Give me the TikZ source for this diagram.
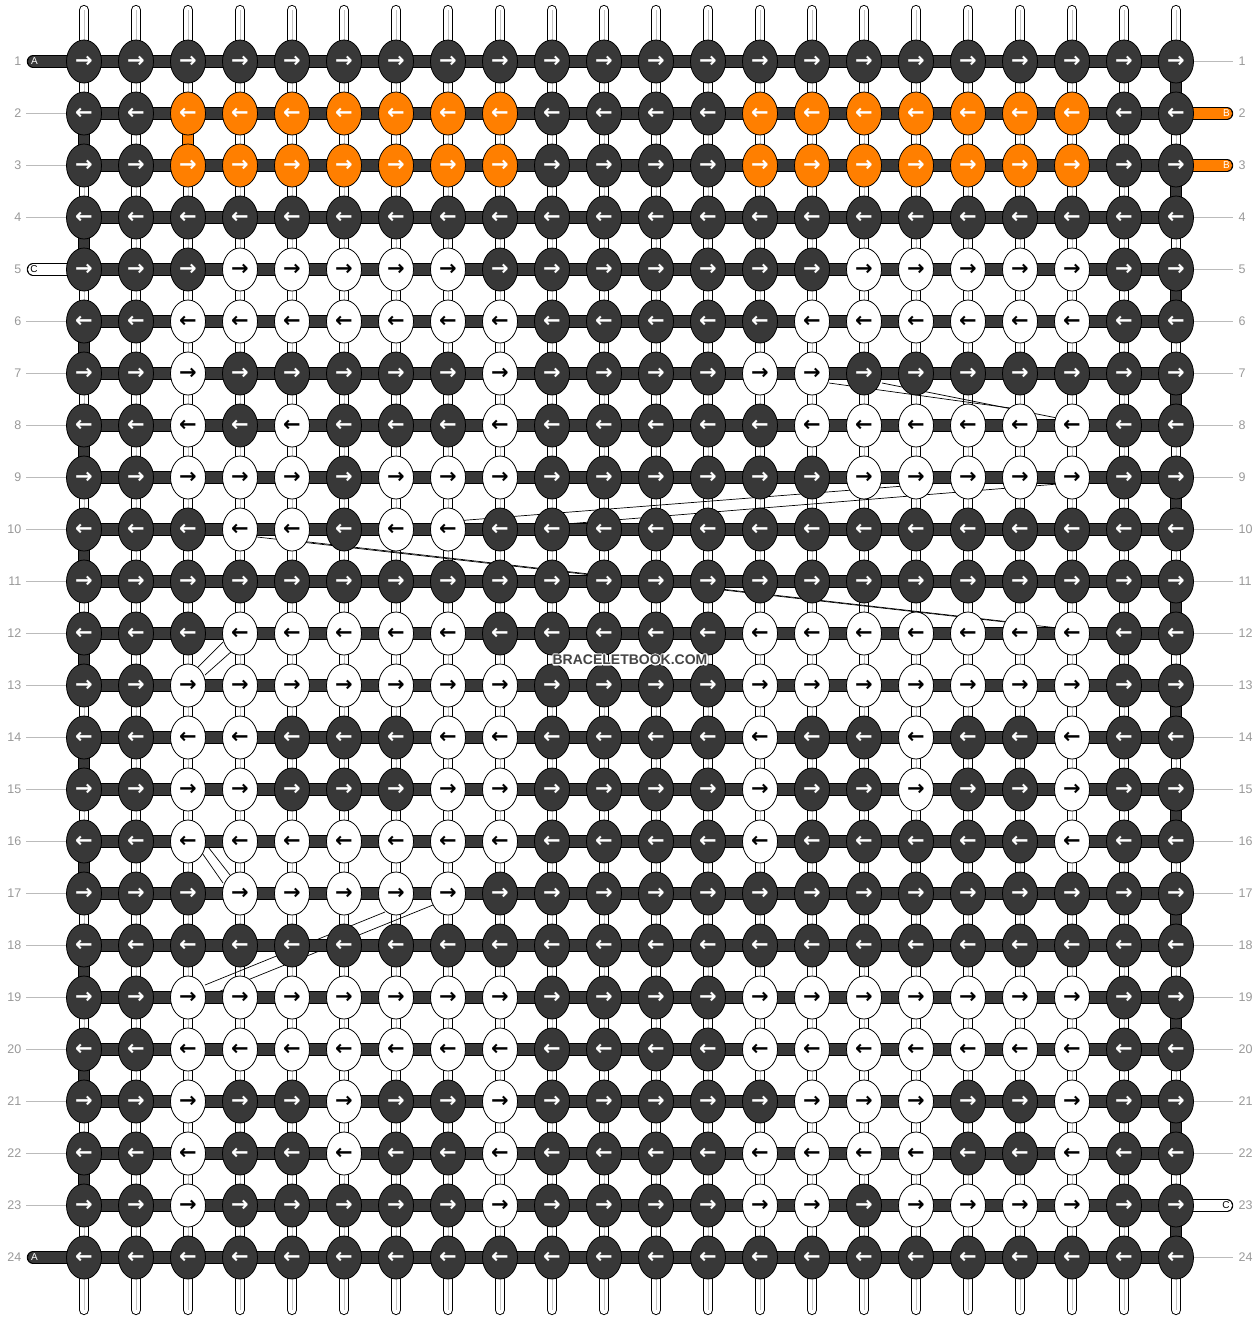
\documentclass[tikz,border=0pt]{standalone}
\usepackage{fontspec}
\setmainfont{Liberation Sans}
\newfontfamily\arrowfont{DejaVu Sans}
\usetikzlibrary{shapes.geometric}
\definecolor{knotdark}{HTML}{383838}
\definecolor{knotorange}{HTML}{FF7F00}
\definecolor{labelgray}{HTML}{999999}
\definecolor{guidegray}{HTML}{BBBBBB}
\definecolor{warpline}{HTML}{C4C4C4}
\definecolor{wmgray}{HTML}{444444}
\pgfdeclarelayer{warplayer}
\pgfdeclarelayer{diaglayer}
\pgfdeclarelayer{weftlayer}
\pgfsetlayers{warplayer,diaglayer,weftlayer,main}
\newcommand\halotext[1]{\leavevmode\rlap{\special{pdf:literal direct 1 Tr 2.4 w 1 j 1 1 1 RG}#1}\special{pdf:literal direct 0 Tr}#1}
\begin{document}
\begin{tikzpicture}[x=1pt,y=-1pt,
  knot/.style={ellipse, draw=black, line width=0.8pt, minimum width=35pt, minimum height=43pt,
    inner sep=0pt, font=\arrowfont\bfseries\fontsize{21}{21}\selectfont},
  lbl/.style={inner sep=0pt, text=labelgray, font=\fontsize{12.5}{12.5}\selectfont},
  taillbl/.style={inner sep=0pt, font=\fontsize{10}{10}\selectfont},
  warpstr/.style={line cap=round, line width=8.2pt, draw=white,
    preaction={draw=black, line width=10.2pt, line cap=round},
    postaction={draw=warpline, line width=0.8pt, line cap=butt}},
  weftstr/.style={line width=10.2pt, draw=knotdark, preaction={draw=black, line width=12.2pt}},
  tailstr/.style={line cap=round, line width=10.2pt, preaction={draw=black, line width=12.4pt, line cap=round}},
  guide/.style={draw=guidegray, line width=1pt},
  diag/.style={draw=black, line width=0.7pt}
]
\useasboundingbox (0,0) rectangle (1260,1320);
\begin{pgfonlayer}{warplayer}
  \fill[white] (0,0) rectangle (1260,1320);
\end{pgfonlayer}

% knots
\foreach \r/\wl/\ol in {
  1/{0}/{0},
  2/{0}/{3,4,5,6,7,8,9,14,15,16,17,18,19,20},
  3/{0}/{3,4,5,6,7,8,9,14,15,16,17,18,19,20},
  4/{0}/{0},
  5/{4,5,6,7,8,16,17,18,19,20}/{0},
  6/{3,4,5,6,7,8,9,15,16,17,18,19,20}/{0},
  7/{3,9,14,15}/{0},
  8/{3,5,9,15,16,17,18,19,20}/{0},
  9/{3,4,5,7,8,9,16,17,18,19,20}/{0},
  10/{4,5,7,8}/{0},
  11/{0}/{0},
  12/{4,5,6,7,8,14,15,16,17,18,19,20}/{0},
  13/{3,4,5,6,7,8,9,14,15,16,17,18,19,20}/{0},
  14/{3,4,8,9,14,17,20}/{0},
  15/{3,4,8,9,14,17,20}/{0},
  16/{3,4,5,6,7,8,9,14,20}/{0},
  17/{4,5,6,7,8}/{0},
  18/{0}/{0},
  19/{3,4,5,6,7,8,9,14,15,16,17,18,19,20}/{0},
  20/{3,4,5,6,7,8,9,14,15,16,17,18,19,20}/{0},
  21/{3,6,9,15,16,17,20}/{0},
  22/{3,6,9,14,15,16,17,20}/{0},
  23/{3,9,14,15,17,18,19,20}/{0},
  24/{0}/{0}}{
  \pgfmathsetmacro\yy{61.5+52*(\r-1)}
  \foreach \c in {1,...,22}{
    \gdef\kf{knotdark}\gdef\kt{white}
    \foreach \w in \wl {\ifnum\w=\c\relax\gdef\kf{white}\gdef\kt{black}\fi}
    \foreach \o in \ol {\ifnum\o=\c\relax\gdef\kf{knotorange}\gdef\kt{white}\fi}
    \pgfmathsetmacro\xx{84+52*(\c-1)}
    \ifodd\r\relax\def\arr{→}\else\def\arr{←}\fi
    \node[knot, fill=\kf, text=\kt] (n-\r-\c) at (\xx,\yy) {\arr};
  }
}

% warp strings
\begin{pgfonlayer}{warplayer}
\foreach \c in {1,...,22}{
  \pgfmathsetmacro\xx{84+52*(\c-1)}
  \coordinate (top-\c) at (\xx,10);
  \coordinate (bot-\c) at (\xx,1310);
  \draw[warpstr] (top-\c) -- (bot-\c);
}
\end{pgfonlayer}

% stray thin lines
\begin{pgfonlayer}{diaglayer}
  \draw[diag] (829,383) -- (1010,408);
  \draw[diag] (882,383) -- (1057,418);
  \draw[diag] (455,521) -- (1058,474);
  \draw[diag] (455,533) -- (1058,484);
  \draw[diag] (257,537) -- (1058,628);
  \draw[diag] (300,541) -- (1010,622);
  \draw[diag] (198,667) -- (223,642);
  \draw[diag] (205,675) -- (232,651);
  \draw[diag] (200,850) -- (223,883);
  \draw[diag] (205,843) -- (230,875);
  \draw[diag] (205,985) -- (385,912);
  \draw[diag] (218,992) -- (433,905);
\end{pgfonlayer}

% weft strings
\begin{pgfonlayer}{weftlayer}
\foreach \r in {1,...,24}{
  \draw[weftstr] (n-\r-1.center) -- (n-\r-22.center);
}
\foreach \r in {2,4,...,22}{
  \pgfmathtruncatemacro\rn{\r+1}
  \draw[weftstr] (n-\r-1.center) -- (n-\rn-1.center);
}
\foreach \r in {1,3,...,23}{
  \pgfmathtruncatemacro\rn{\r+1}
  \draw[weftstr] (n-\r-22.center) -- (n-\rn-22.center);
}
\draw[weftstr, draw=knotorange] (n-2-3.center) -- (n-3-3.center);

% tails
\coordinate (tA1) at (33,61.5);
\coordinate (tA24) at (33,1257.5);
\coordinate (tC5) at (33,269.5);
\coordinate (tB2) at (1227,113.5);
\coordinate (tB3) at (1227,165.5);
\coordinate (tC23) at (1227,1205.5);
\draw[tailstr, draw=knotdark] (tA1) -- (n-1-1.center);
\draw[tailstr, draw=knotdark] (tA24) -- (n-24-1.center);
\draw[tailstr, draw=white] (tC5) -- (n-5-1.center);
\draw[tailstr, draw=knotorange] (n-2-22.center) -- (tB2);
\draw[tailstr, draw=knotorange] (n-3-22.center) -- (tB3);
\draw[tailstr, draw=white] (n-23-22.center) -- (tC23);

% guide lines to row numbers
\foreach \r in {2,3,4,6,7,8,9,10,11,12,13,14,15,16,17,18,19,20,21,22,23}{
  \pgfmathsetmacro\yy{61.5+52*(\r-1)}
  \coordinate (gl-\r) at (26,\yy);
  \draw[guide] (gl-\r) -- (n-\r-1.center);
}
\foreach \r in {1,4,5,6,7,8,9,10,11,12,13,14,15,16,17,18,19,20,21,22,24}{
  \pgfmathsetmacro\yy{61.5+52*(\r-1)}
  \coordinate (gr-\r) at (1233,\yy);
  \draw[guide] (n-\r-22.center) -- (gr-\r);
}
\end{pgfonlayer}

% tail letters
\node[taillbl, text=white] (labA1) at (34.5,61.5) {A};
\node[taillbl, text=white] (labA24) at (34.5,1257.5) {A};
\node[taillbl, text=black] (labC5) at (34,269.5) {C};
\node[taillbl, text=white] (labB2) at (1226.5,113.5) {B};
\node[taillbl, text=white] (labB3) at (1226.5,165.5) {B};
\node[taillbl, text=black] (labC23) at (1226,1205.5) {C};

% row numbers
\foreach \r in {1,...,24}{
  \pgfmathsetmacro\yy{61.5+52*(\r-1)}
  \node[lbl, anchor=east] (ln-\r) at (21.5,\yy) {\r};
  \node[lbl, anchor=west] (rn-\r) at (1238.5,\yy) {\r};
}

% watermark
\node[inner sep=0pt, text=wmgray, font=\bfseries\fontsize{14}{14}\selectfont] (wm) at (630,659.5) {\halotext{BRACELETBOOK.COM}};
\end{tikzpicture}
\end{document}
